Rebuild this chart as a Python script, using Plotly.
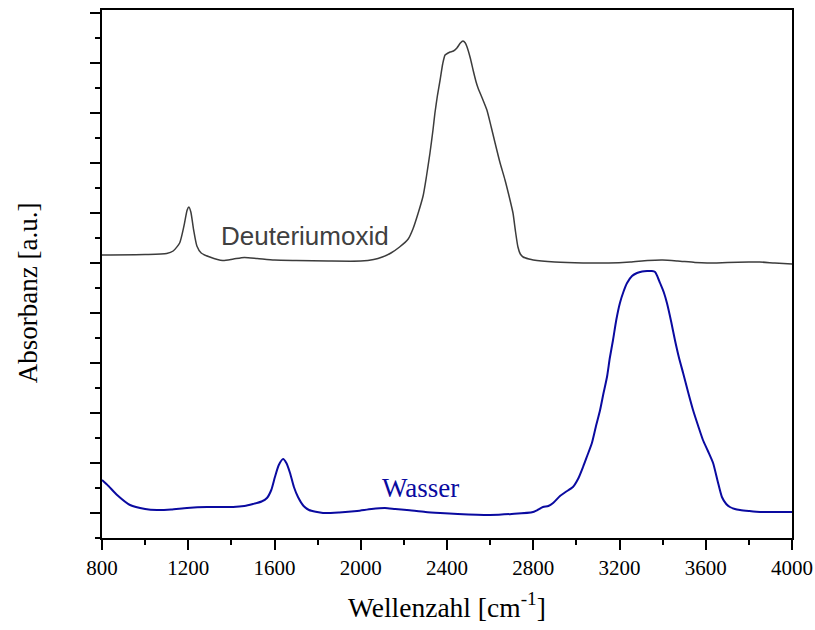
import plotly.graph_objects as go

# D2O spectrum (wavenumber, absorbance a.u.)
d2o_wn = [800, 1000, 1100, 1130, 1160, 1180, 1195, 1203, 1212, 1225, 1240, 1260, 1300, 1360, 1410,
          1460, 1520, 1600, 1700, 1850, 2000, 2060, 2100, 2140, 2180, 2220, 2242, 2265, 2289, 2305,
          2321, 2335, 2344, 2356, 2368, 2380, 2391, 2405, 2414, 2430, 2446, 2462, 2474, 2485, 2493,
          2508, 2521, 2535, 2544, 2565, 2585, 2605, 2623, 2645, 2669, 2690, 2706, 2718, 2729, 2740,
          2753, 2780, 2800, 2900, 3031, 3150, 3250, 3330, 3400, 3470, 3550, 3606, 3700, 3800, 3850,
          3920, 4000]
d2o_px = [255, 254.5, 253.5, 251, 243, 226, 210, 207, 212, 230, 246, 253, 257, 260.5, 259,
          257.5, 258.5, 260, 260.5, 261, 261, 259.5, 257, 253, 247, 239, 229, 214, 196, 176,
          153, 130, 113, 95, 80, 64, 55, 53, 52, 51, 48, 43, 41, 43, 47,
          58, 70, 82, 88, 99, 110, 127, 143, 162, 180, 198, 213, 232, 247, 254,
          257, 259, 260, 262, 263, 263, 262, 260.5, 260, 261, 262.5, 263, 262.5, 262, 262,
          263, 264]

# H2O spectrum
h2o_wn = [800, 830, 870, 930, 1000, 1055, 1120, 1194, 1287, 1408, 1460, 1500, 1540, 1565, 1585,
          1602, 1620, 1640, 1655, 1672, 1690, 1709, 1735, 1760, 1825, 1900, 1983, 2050, 2112, 2160,
          2214, 2300, 2368, 2450, 2599, 2700, 2799, 2845, 2870, 2892, 2924, 2950, 2984, 3010, 3031,
          3050, 3072, 3090, 3110, 3125, 3142, 3155, 3170, 3185, 3202, 3218, 3235, 3258, 3281, 3305,
          3328, 3350, 3365, 3375, 3388, 3405, 3420, 3440, 3457, 3475, 3495, 3518, 3541, 3565, 3587,
          3610, 3634, 3655, 3675, 3695, 3712, 3735, 3759, 3800, 3852, 3920, 4000]
h2o_px = [480, 486, 495, 505, 509, 510, 509.5, 508, 507, 507, 506, 504, 501.5, 498, 490,
          477, 465, 459, 463, 473, 487, 497, 506, 510, 513, 512.5, 511, 509, 508, 509,
          510, 512, 513, 514, 515, 514, 512, 507, 506, 503, 496, 492, 487, 478, 467,
          456, 443, 427, 410, 394, 377, 358, 340, 320, 303, 292, 283, 276, 273, 271.5,
          271, 271, 272, 276, 283, 292, 303, 322, 340, 357, 373, 392, 410, 426, 440,
          451, 463, 481, 497, 504, 507, 509, 510, 511, 512, 512, 512]

d2o_abs = [(538 - p) / 50 for p in d2o_px]
h2o_abs = [(538 - p) / 50 for p in h2o_px]

x_ticks = [800, 1200, 1600, 2000, 2400, 2800, 3200, 3600, 4000]

SERIF = "Times New Roman, Liberation Serif, serif"

fig = go.Figure()
fig.add_trace(go.Scatter(x=d2o_wn, y=d2o_abs, mode="lines",
                         line=dict(color="#3c3c3c", width=1.5, shape="spline", smoothing=0.6),
                         showlegend=False))
fig.add_trace(go.Scatter(x=h2o_wn, y=h2o_abs, mode="lines",
                         line=dict(color="#0a0aa0", width=2, shape="spline", smoothing=0.6),
                         showlegend=False))

fig.add_annotation(x=1741, y=6.04, text="Deuteriumoxid", showarrow=False,
                   font=dict(family="Arial, Liberation Sans, sans-serif", size=26, color="#404040"))
fig.add_annotation(x=2279, y=1.0, text="Wasser", showarrow=False,
                   font=dict(family=SERIF, size=27, color="#0a0aa0"))

# axis titles
fig.add_annotation(xref="paper", yref="paper", x=0.5, y=-0.127, text="Wellenzahl [cm<sup>-1</sup>]",
                   showarrow=False, xanchor="center", yanchor="middle",
                   font=dict(family=SERIF, size=27.5, color="black"))
fig.add_annotation(xref="paper", yref="paper", x=-0.107, y=0.464, text="Absorbanz [a.u.]",
                   showarrow=False, xanchor="center", yanchor="middle", textangle=-90,
                   font=dict(family=SERIF, size=27, color="black"))

fig.update_layout(
    width=815, height=630,
    margin=dict(l=102, r=23, t=10, b=92, autoexpand=False),
    plot_bgcolor="white", paper_bgcolor="white",
    font=dict(family=SERIF, color="black"),
)
fig.update_xaxes(
    range=[800, 4000], tickvals=x_ticks, ticktext=[str(v) for v in x_ticks],
    ticks="outside", ticklen=10, tickwidth=2, tickcolor="black",
    minor=dict(ticks="outside", dtick=200, tick0=800, ticklen=5, tickwidth=2, tickcolor="black"),
    showline=True, linewidth=2, linecolor="black", mirror=True,
    showgrid=False, zeroline=False, automargin=False,
    tickfont=dict(size=21, family=SERIF, color="black"),
)
fig.update_yaxes(
    range=[0, 10.56], tick0=0.5, dtick=1, showticklabels=False,
    ticks="outside", ticklen=10, tickwidth=2, tickcolor="black",
    minor=dict(ticks="outside", dtick=0.5, tick0=0, ticklen=5, tickwidth=2, tickcolor="black"),
    showline=True, linewidth=2, linecolor="black", mirror=True,
    showgrid=False, zeroline=False, automargin=False,
)

fig.write_html("out.html", config={"displayModeBar": False},
               post_script="document.body.style.margin='0';document.body.style.padding='0';")
